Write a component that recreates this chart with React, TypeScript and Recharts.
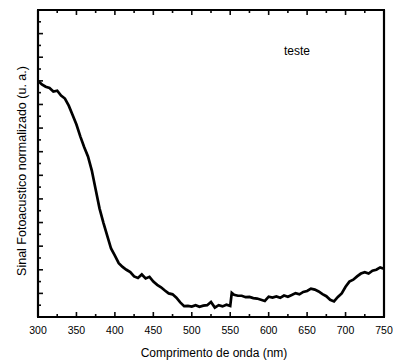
import { LineChart, Line, XAxis, YAxis } from 'recharts'

// wavelength (nm) and normalised photoacoustic signal
const wavelengths = [
  300, 305, 310, 315, 320, 325, 330, 335, 340, 345, 350, 355, 360, 365, 370, 375, 380, 385, 390, 395,
  400, 405, 410, 415, 420, 425, 430, 435, 440, 445, 450, 455, 460, 465, 470, 475, 480, 485, 490, 495,
  500, 505, 510, 515, 520, 525, 530, 535, 540, 545, 550, 552, 555, 560, 565, 570, 575, 580, 585, 590,
  595, 600, 605, 610, 615, 620, 625, 630, 635, 640, 645, 650, 655, 660, 665, 670, 675, 680, 685, 690,
  695, 700, 705, 710, 715, 720, 725, 730, 735, 740, 745, 750,
]
const signal = [
  1.0, 0.985, 0.975, 0.97, 0.955, 0.958, 0.938, 0.925, 0.895, 0.855, 0.815, 0.765, 0.72, 0.68, 0.62, 0.54, 0.46, 0.4, 0.345, 0.29,
  0.26, 0.228, 0.212, 0.2, 0.19, 0.172, 0.165, 0.18, 0.163, 0.17, 0.15, 0.136, 0.126, 0.112, 0.1, 0.096, 0.082, 0.062, 0.046, 0.047,
  0.044, 0.05, 0.043, 0.048, 0.05, 0.064, 0.04, 0.05, 0.045, 0.052, 0.047, 0.102, 0.094, 0.09, 0.09, 0.084, 0.085, 0.08, 0.078, 0.073,
  0.068, 0.086, 0.082, 0.087, 0.081, 0.091, 0.086, 0.093, 0.101, 0.096, 0.106, 0.11, 0.12, 0.116, 0.108, 0.097, 0.088, 0.073, 0.066, 0.085,
  0.1, 0.128, 0.15, 0.158, 0.172, 0.184, 0.19, 0.184, 0.196, 0.2, 0.21, 0.204,
]

const xTicks = [300, 325, 350, 375, 400, 425, 450, 475, 500, 525, 550, 575, 600, 625, 650, 675, 700, 725, 750]
const yTicks = [
  0, 0.05, 0.1, 0.15, 0.2, 0.25, 0.3, 0.35, 0.4, 0.45, 0.5, 0.55, 0.6, 0.65, 0.7, 0.75, 0.8, 0.85, 0.9, 0.95,
  1.0, 1.05, 1.1, 1.15, 1.2, 1.25, 1.3,
]

const data = wavelengths.map((w, i) => ({ nm: w, v: signal[i] }))

const font = '"Liberation Sans", Arial, sans-serif'
const ink = '#0a0a0a'
const isMajorX = (v: number) => v % 50 === 0
const isMajorY = (v: number) => Math.round(v * 100) % 10 === 0

function BottomTick({ x, y, payload }: any) {
  const major = isMajorX(payload.value)
  return (
    <g>
      <line x1={x} x2={x} y1={y} y2={y - (major ? 5 : 3)} stroke={ink} strokeWidth={1.6} />
      {major && (
        <text x={x} y={y + 17} textAnchor="middle" fontSize={10.5} fontFamily={font} fill="#000">
          {payload.value}
        </text>
      )}
    </g>
  )
}

function TopTick({ x, y, payload }: any) {
  const major = isMajorX(payload.value)
  return <line x1={x} x2={x} y1={y} y2={y + (major ? 5 : 3)} stroke={ink} strokeWidth={1.6} />
}

function LeftTick({ x, y, payload }: any) {
  const major = isMajorY(payload.value)
  return <line x1={x} x2={x + (major ? 5 : 3)} y1={y} y2={y} stroke={ink} strokeWidth={1.6} />
}

function RightTick({ x, y, payload }: any) {
  const major = isMajorY(payload.value)
  return <line x1={x} x2={x - (major ? 5 : 3)} y1={y} y2={y} stroke={ink} strokeWidth={1.6} />
}

const bottomLabel = () => (
  <text x={214} y={357} textAnchor="middle" fontSize={12} fontFamily={font} fill="#000">
    Comprimento de onda (nm)
  </text>
)

const topLabel = () => (
  <text x={297} y={55} textAnchor="middle" fontSize={12} fontFamily={font} fill="#000">
    teste
  </text>
)

const leftLabel = () => (
  <text x={26} y={171} transform="rotate(-90 26 171)" textAnchor="middle" fontSize={12.5} fontFamily={font} fill="#000">
    Sinal Fotoacustico normalizado (u. a.)
  </text>
)

const boxLine = { stroke: ink, strokeWidth: 2.2 }

export default function App() {
  return (
    <div style={{ position: 'relative', width: 393, height: 363 }}>
      <style>{'body{margin:0}'}</style>
      <LineChart width={393} height={363} data={data} margin={{ top: 0, right: 0, bottom: 0, left: 0 }}>
        <XAxis
          xAxisId="b"
          dataKey="nm"
          type="number"
          domain={[300, 750]}
          ticks={xTicks}
          interval={0}
          height={46}
          tickSize={0}
          tickMargin={0}
          tickLine={false}
          tick={<BottomTick />}
          axisLine={boxLine}
          label={bottomLabel}
        />
        <XAxis
          xAxisId="t"
          orientation="top"
          dataKey="nm"
          type="number"
          domain={[300, 750]}
          ticks={xTicks}
          interval={0}
          height={10}
          tickSize={0}
          tickMargin={0}
          tickLine={false}
          tick={<TopTick />}
          axisLine={boxLine}
          label={topLabel}
        />
        <YAxis
          yAxisId="l"
          type="number"
          domain={[0, 1.3]}
          ticks={yTicks}
          interval={0}
          width={38}
          tickSize={0}
          tickMargin={0}
          tickLine={false}
          tick={<LeftTick />}
          axisLine={boxLine}
          label={leftLabel}
        />
        <YAxis
          yAxisId="r"
          orientation="right"
          type="number"
          domain={[0, 1.3]}
          ticks={yTicks}
          interval={0}
          width={9}
          tickSize={0}
          tickMargin={0}
          tickLine={false}
          tick={<RightTick />}
          axisLine={boxLine}
        />
        <Line
          xAxisId="b"
          yAxisId="l"
          type="linear"
          dataKey="v"
          stroke="#000"
          strokeWidth={2.7}
          dot={false}
          isAnimationActive={false}
        />
      </LineChart>
      {/* plot frame, sits on the plot-area edges (38..384, 10..317) */}
      <div
        style={{
          position: 'absolute',
          left: 37,
          top: 9,
          width: 348,
          height: 309,
          boxSizing: 'border-box',
          border: '2px solid #000',
          pointerEvents: 'none',
        }}
      />
    </div>
  )
}
